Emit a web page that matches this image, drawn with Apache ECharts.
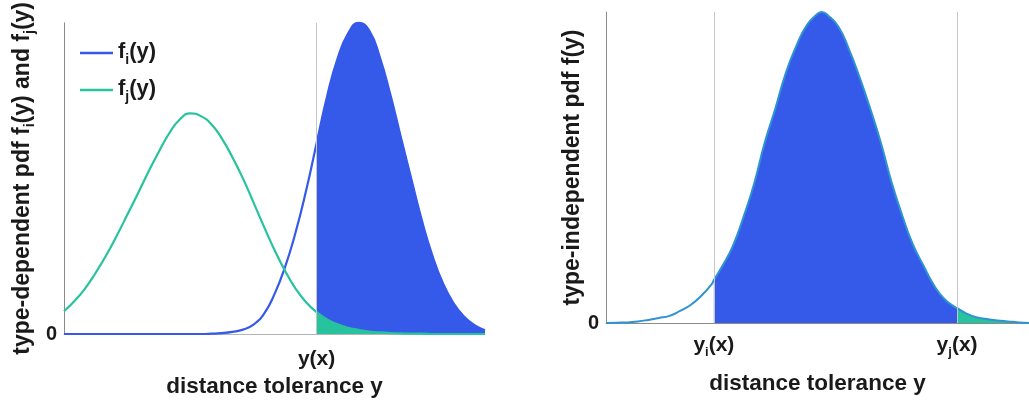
<!DOCTYPE html>
<html>
<head>
<meta charset="utf-8">
<script src="https://cdn.jsdelivr.net/npm/echarts@6/dist/echarts.min.js"></script>
<style>
html,body{margin:0;padding:0;background:#fff;}
#chart{width:1029px;height:404px;}
</style>
</head>
<body>
<div id="chart"></div>
<script>
// ---------- data ----------
// left panel: distance tolerance y (arbitrary units 0..100), type-dependent pdfs
const xLeft = [0,2.5,5,7.5,10,12.5,15,17.5,20,22.5,25,27.5,30,32.5,35,37.5,40,42.5,45,47.5,50,52.5,55,57.5,60,62.5,65,67.5,70,72.5,75,77.5,80,82.5,85,87.5,90,92.5,95,97.5,100];
const fiLeft = [0,0,0,0,0,0,0,0,0,0,0,0,0,0,0.1,0.3,0.7,1.4,3.0,6.5,12.8,21.5,32.6,46.0,61.3,76.4,88.6,96.6,100,97.5,89.0,77.0,63.3,49.8,36.5,25.2,16.3,9.9,5.6,2.8,1.2];
const fjLeft = [7.3,10.6,14.6,19.6,25.2,31.5,38.2,45.0,52.0,58.5,64.5,68.9,70.9,70.0,67.4,62.8,56.8,50.0,42.3,34.5,27.0,20.3,14.6,10.2,7.0,4.7,3.1,2.0,1.3,0.8,0.5,0.3,0.2,0.1,0.1,0,0,0,0,0,0];
const leftThresholds = [60];          // y(x)
const leftTickLabels = ['y(x)'];
const legendNames = ['fi','fj'];
const legendSubs = ['i','j'];

// right panel: type-independent pdf
const xRight = [0,2.5,5,7.5,10,12.5,15,17.5,20,22.5,25,25.5,27.5,30,32.5,35,37.5,40,42.5,45,47.5,50,51,52.5,55,57.5,60,62.5,65,67.5,70,72.5,75,77.5,80,82.5,83,85,87.5,90,92.5,95,97.5,100];
const fRight = [0,0.1,0.2,0.5,1.0,1.6,2.3,3.9,5.8,8.7,12.5,13.8,18.3,24.8,34.1,44.7,57.9,68.8,80.4,89.1,95.8,99.4,100,98.9,95.2,87.8,78.8,68.8,57.9,45.3,34.7,25.4,18.6,12.2,7.7,5.1,4.8,3.2,1.9,1.3,0.8,0.5,0.2,0];
const rightThresholds = [25.5, 83];  // y_i(x), y_j(x)
const rightTickSubs = ['i','j'];

// ---------- styling ----------
const FONT = '"Liberation Sans", Arial, sans-serif';
const TXT = '#1a1a1a';
const BLUE = '#3559e8';
const GREEN = '#27c39f';
const LBLUE = '#2f93d2';
const VLINE = '#c6c6c6';
const SM = 0.5;

function richSet(size, subSize, subPad){
  return {
    m:{fontSize:size,fontWeight:'bold',fontFamily:FONT,color:TXT,lineHeight:size+2,verticalAlign:'top'},
    s:{fontSize:subSize,fontWeight:'bold',fontFamily:FONT,color:TXT,lineHeight:subSize,padding:[subPad,0,0,0],verticalAlign:'top'}
  };
}
function pairs(xs, ys){ return xs.map((x,i)=>[x, ys[i]]); }
function range(xs, ys, a, b){ return pairs(xs, ys).filter(p=>p[0]>=a && p[0]<=b); }

const chart = echarts.init(document.getElementById('chart'));

const option = {
  animation:false,
  backgroundColor:'#fff',
  grid:[
    {left:64, top:21, width:421, height:313},
    {left:606, top:12, width:423, height:311}
  ],
  legend:{
    data:legendNames.map(n=>({name:n,icon:'rect'})),
    orient:'vertical',
    left:75, top:36,
    itemWidth:33, itemHeight:2.5, itemGap:11,
    formatter:function(n){ const k = legendNames.indexOf(n); return '{m|f}{s|'+legendSubs[k]+'}{m|(y)}'; },
    textStyle:{rich:richSet(22,14,12)}
  },
  xAxis:[
    {gridIndex:0,type:'value',min:0,max:100,
     axisLine:{show:true,lineStyle:{color:'#b4b4b4',width:1}},
     axisTick:{show:false},splitLine:{show:false},
     axisLabel:{customValues:leftThresholds,margin:15,
       formatter:function(v){ const k = leftThresholds.indexOf(v); return k>=0 ? '{m|'+leftTickLabels[k]+'}' : ''; },
       rich:richSet(21,13,11)},
     name:'distance tolerance y',nameLocation:'middle',nameGap:37,
     nameTextStyle:{fontSize:22.5,fontWeight:'bold',fontFamily:FONT,color:TXT}},
    {gridIndex:1,type:'value',min:0,max:100,
     axisLine:{show:true,lineStyle:{color:'#8a8a8a',width:1}},
     axisTick:{show:false},splitLine:{show:false},
     axisLabel:{customValues:rightThresholds,margin:12,
       formatter:function(v){ const k = rightThresholds.indexOf(v); return k>=0 ? '{m|y}{s|'+rightTickSubs[k]+'}{m|(x)}' : ''; },
       rich:richSet(21,13,11)},
     name:'distance tolerance y',nameLocation:'middle',nameGap:49,
     nameTextStyle:{fontSize:22.5,fontWeight:'bold',fontFamily:FONT,color:TXT}}
  ],
  yAxis:[
    {gridIndex:0,type:'value',min:0,max:100,
     axisLine:{show:true,lineStyle:{color:'#8a8a8a',width:1}},
     axisTick:{show:false},splitLine:{show:false},
     axisLabel:{customValues:[0],margin:7,fontSize:20,fontWeight:'bold',fontFamily:FONT,color:TXT},
     name:'{m|type-dependent pdf f}{s|i}{m|(y) and f}{s|j}{m|(y)}',nameLocation:'middle',nameGap:28,
     nameTextStyle:{rich:richSet(23,14,12)}},
    {gridIndex:1,type:'value',min:0,max:100,
     axisLine:{show:true,lineStyle:{color:'#8a8a8a',width:1}},
     axisTick:{show:false},splitLine:{show:false},
     axisLabel:{customValues:[0],margin:7,fontSize:20,fontWeight:'bold',fontFamily:FONT,color:TXT},
     name:'type-independent pdf f(y)',nameLocation:'middle',nameGap:20,
     nameTextStyle:{fontSize:23,fontWeight:'bold',fontFamily:FONT,color:TXT}}
  ],
  series:[
    // left fills
    {type:'line',xAxisIndex:0,yAxisIndex:0,z:1,smooth:SM,symbol:'none',silent:true,clip:false,
     data:range(xLeft,fiLeft,leftThresholds[0],100),
     lineStyle:{width:0},areaStyle:{color:BLUE,opacity:1},
     markLine:{silent:true,symbol:['none','none'],label:{show:false},lineStyle:{color:VLINE,width:1,type:'solid'},
       data:leftThresholds.map(v=>({xAxis:v}))}},
    {type:'line',xAxisIndex:0,yAxisIndex:0,z:2,smooth:SM,symbol:'none',silent:true,clip:false,
     data:range(xLeft,fjLeft,leftThresholds[0],100),
     lineStyle:{width:0},areaStyle:{color:GREEN,opacity:1}},
    // left lines
    {name:'fi',type:'line',xAxisIndex:0,yAxisIndex:0,z:3,smooth:SM,symbol:'none',clip:false,
     data:pairs(xLeft,fiLeft),color:BLUE,lineStyle:{color:BLUE,width:2.2}},
    {name:'fj',type:'line',xAxisIndex:0,yAxisIndex:0,z:4,smooth:SM,symbol:'none',clip:false,
     data:pairs(xLeft,fjLeft),color:GREEN,lineStyle:{color:GREEN,width:2.2}},
    // right fills
    {type:'line',xAxisIndex:1,yAxisIndex:1,z:1,smooth:SM,symbol:'none',silent:true,clip:false,
     data:range(xRight,fRight,rightThresholds[0],rightThresholds[1]),
     lineStyle:{width:0},areaStyle:{color:BLUE,opacity:1},
     markLine:{silent:true,symbol:['none','none'],label:{show:false},lineStyle:{color:VLINE,width:1,type:'solid'},
       data:rightThresholds.map(v=>({xAxis:v}))}},
    {type:'line',xAxisIndex:1,yAxisIndex:1,z:1,smooth:SM,symbol:'none',silent:true,clip:false,
     data:range(xRight,fRight,rightThresholds[1],100),
     lineStyle:{width:0},areaStyle:{color:GREEN,opacity:1}},
    // right line
    {name:'f',type:'line',xAxisIndex:1,yAxisIndex:1,z:3,smooth:SM,symbol:'none',clip:false,
     data:pairs(xRight,fRight),lineStyle:{color:LBLUE,width:2}}
  ]
};
chart.setOption(option);
</script>
</body>
</html>
